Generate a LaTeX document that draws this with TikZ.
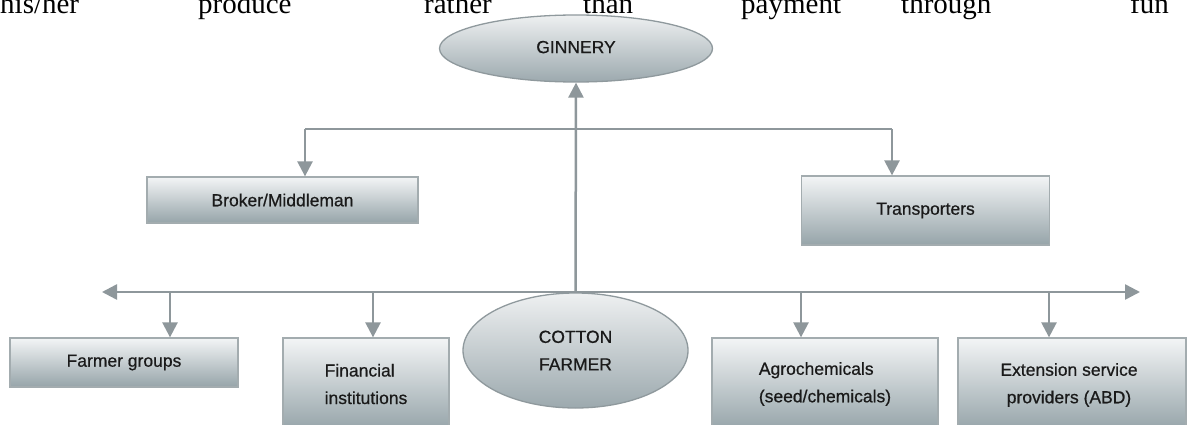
\documentclass[tikz,border=0pt]{standalone}
\usepackage{fontspec}
\setmainfont{Liberation Sans}
\newfontfamily\nodefont{Liberation Sans}[FakeBold=0.6]
\newfontfamily\bodyserif{Liberation Serif}
\usetikzlibrary{shapes.geometric,arrows.meta}
\definecolor{linegray}{HTML}{8E979B}
\definecolor{boxtop}{HTML}{F3F5F6}
\definecolor{boxbot}{HTML}{96A4A9}
\definecolor{boxedge}{HTML}{A3ACAF}
\definecolor{elltop}{HTML}{EEF0F1}
\definecolor{ellbot}{HTML}{9CA9AE}
\definecolor{elledge}{HTML}{8F999D}
\definecolor{txt}{HTML}{1A1A1A}
\begin{document}
\begin{tikzpicture}[x=1pt,y=-1pt,
  boxnode/.style={rectangle, draw=boxedge, line width=1.3pt, top color=boxtop, bottom color=boxbot,
    inner sep=0pt, text=txt, font=\nodefont\fontsize{17.5}{27.5}\selectfont, align=left},
  ellnode/.style={ellipse, draw=elledge, line width=1.3pt, top color=elltop, bottom color=ellbot,
    inner sep=0pt, text=txt, font=\nodefont\fontsize{17.5}{27.5}\selectfont, align=center},
  conn/.style={draw=linegray, line width=2.5pt},
  arr/.style={conn, -{Triangle[length=15pt,width=15pt]}},
  dblarr/.style={conn, {Triangle[length=15pt,width=15pt]}-{Triangle[length=15pt,width=15pt]}},
  bodyword/.style={anchor=base west, inner sep=0pt, text=black, font=\bodyserif\fontsize{29}{29}\selectfont}
]
\useasboundingbox (0,0) rectangle (1198,425);
\clip (0,0) rectangle (1198,425);
\fill[white] (0,0) rectangle (1198,425);

% clipped line of body text above the figure
\node[bodyword] (w1) at (0,14) {his/her};
\node[bodyword] (w2) at (198,14) {produce};
\node[bodyword] (w3) at (424,14) {rather};
\node[bodyword] (w4) at (583,14) {than};
\node[bodyword] (w5) at (741,14) {payment};
\node[bodyword] (w6) at (901,14) {through};
\node[bodyword] (w7) at (1130,14) {fun};

% nodes
\node[ellnode, minimum width=273pt, minimum height=67pt] (gin) at (576,48.5) {\raisebox{3pt}{GINNERY}};
\node[ellnode, minimum width=225pt, minimum height=115pt] (cf) at (575.5,350.5) {COTTON\\FARMER};

\node[boxnode, minimum width=271pt, minimum height=46pt] (bm) at (282.5,200) {Broker/Middleman};
\node[boxnode, minimum width=248pt, minimum height=69pt] (tr) at (925.5,210.5) {Transporters};

\node[boxnode, minimum width=228pt, minimum height=49pt] (fg) at (124,362.5) {Farmer groups};
\node[boxnode, minimum width=166pt, minimum height=92pt] (fi) at (366,384) {Financial\\institutions};
\node[boxnode, minimum width=226pt, minimum height=92pt] (ag) at (825,384) {Agrochemicals\\(seed/chemicals)};
\node[boxnode, minimum width=228pt, minimum height=92pt] (ex) at (1072,384) {\hspace*{-6pt}\begin{tabular}{@{}c@{}}Extension service\\providers (ABD)\end{tabular}};

% junction coordinates
\coordinate (ul) at (305,129);
\coordinate (ur) at (892,129);
\coordinate (ll) at (102,292);
\coordinate (lr) at (1140,292);
\coordinate (b1) at (170,292);
\coordinate (b2) at (373,292);
\coordinate (b3) at (801,292);
\coordinate (b4) at (1049,292);

% connectors
\draw[arr] (cf.north) -- (gin.south);
\draw[conn] (ul) -- (ur);
\draw[arr] (ul) -- (ul |- bm.north);
\draw[arr] (ur) -- (ur |- tr.north);
\draw[dblarr] (ll) -- (lr);
\draw[arr] (b1) -- (b1 |- fg.north);
\draw[arr] (b2) -- (b2 |- fi.north);
\draw[arr] (b3) -- (b3 |- ag.north);
\draw[arr] (b4) -- (b4 |- ex.north);
\end{tikzpicture}
\end{document}
